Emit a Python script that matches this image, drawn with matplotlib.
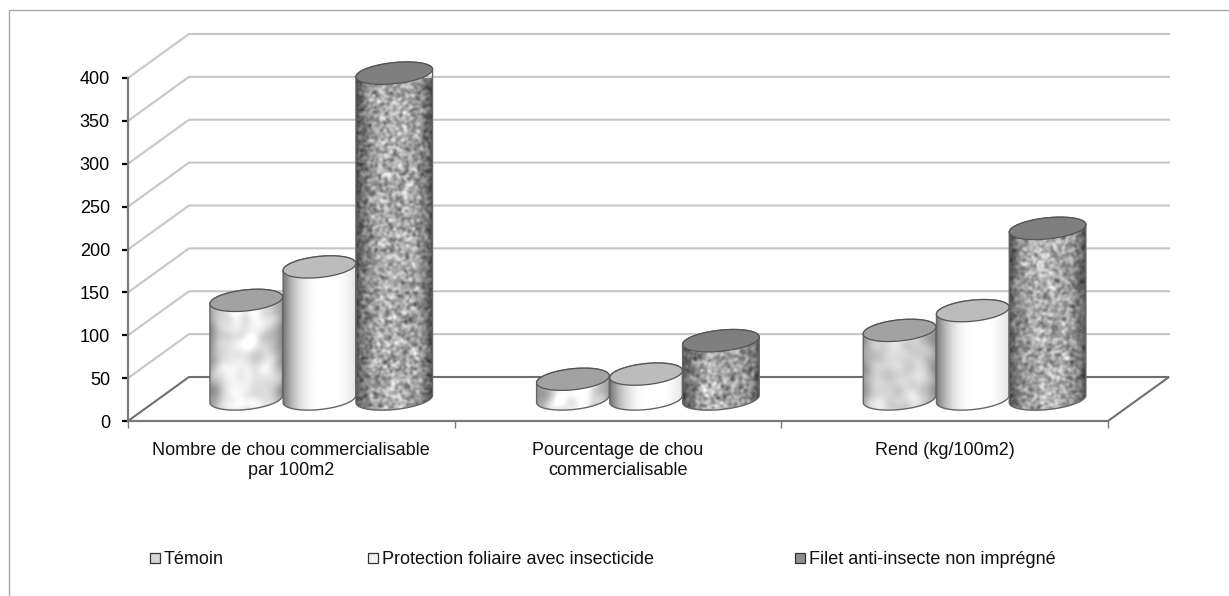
import numpy as np
import matplotlib
matplotlib.use("Agg")
import matplotlib.pyplot as plt
from matplotlib.lines import Line2D
from matplotlib.patches import Polygon, Rectangle

plt.rcParams['font.family'] = ['Liberation Sans', 'DejaVu Sans']

categories = ["Nombre de chou commercialisable\npar 100m2",
              "Pourcentage de chou\ncommercialisable",
              "Rend (kg/100m2)"]
series_names = ["Témoin", "Protection foliaire avec insecticide", "Filet anti-insecte non imprégné"]
temoin = [115, 23, 80]
protection = [154, 29, 103]
filet = [380, 68, 199]
y_ticks = [0, 50, 100, 150, 200, 250, 300, 350, 400]

W, H = 1229, 596
# plot box in pixels
LEFT, RIGHT, TOP, BOTTOM = 128, 1108, 78, 421
PX_X = (RIGHT - LEFT) / 3
PX_Y = (BOTTOM - TOP) / 400
DEPTH_X = 61 / PX_X   # oblique offset of the back wall
DEPTH_Y = 44 / PX_Y
BASE = 22 / PX_Y      # cylinders stand in the middle of the floor
TILT = np.radians(6)
MINOR = 10.5          # half height of the end ellipses, pixels


def noise(h, w, sigma, seed):
    # hash noise, smoothed in the fourier domain, scaled 0..1
    yy, xx = np.mgrid[0:h, 0:w]
    n = np.sin((xx + seed) * 12.9898 + (yy + seed) * 78.233) * 43758.5453
    n = n - np.floor(n)
    fy = np.fft.fftfreq(h)[:, None]
    fx = np.fft.fftfreq(w)[None, :]
    g = np.exp(-2 * (np.pi * sigma) ** 2 * (fx ** 2 + fy ** 2))
    n = np.real(np.fft.ifft2(np.fft.fft2(n) * g))
    return (n - n.min()) / (n.max() - n.min())


def side_texture(kind, h, w, seed):
    u = np.linspace(-1, 1, w)[None, :]
    if kind == 0:
        tex = 0.78 + 0.30 * noise(h, w, 5, seed)
        img = tex * (1 - 0.34 * np.abs(u) ** 2.4)
    elif kind == 1:
        # grey on the left, white right of centre, soft edge on the right
        img = 1 - 0.42 * np.clip(-u + 0.1, 0, 1.1) ** 2.5 - 0.25 * np.clip(u - 0.45, 0, 1) ** 1.5
        img = img * np.ones((h, 1))
    else:
        tex = 0.34 + 0.72 * noise(h, w, 1.3, seed)
        img = tex * (1 - 0.55 * np.abs(u) ** 3)
    return np.clip(img, 0, 1)


def ellipse(cx, cy, r, t):
    # tilted ellipse worked out in pixels, returned in data units
    ex = r * np.cos(t) * np.cos(TILT) - MINOR * np.sin(t) * np.sin(TILT)
    ey = r * np.cos(t) * np.sin(TILT) + MINOR * np.sin(t) * np.cos(TILT)
    return np.column_stack([cx + ex / PX_X, cy + ey / PX_Y])


def cylinder(ax, cx, value, r, kind, seed):
    t0 = np.arctan2(-MINOR * np.sin(TILT), r * np.cos(TILT))
    low = ellipse(cx, BASE, r, np.linspace(t0 + np.pi, t0 + 2 * np.pi, 80))
    up = ellipse(cx, BASE + value, r, np.linspace(t0, t0 + np.pi, 80))
    pts = np.vstack([low, up])
    x0, x1 = pts[:, 0].min(), pts[:, 0].max()
    y0, y1 = pts[:, 1].min(), pts[:, 1].max()
    h = max(int((y1 - y0) * PX_Y), 4)
    w = int((x1 - x0) * PX_X)
    im = ax.imshow(side_texture(kind, h, w, seed), cmap='gray', vmin=0, vmax=1, aspect='auto',
                   extent=(x0, x1, y0, y1), origin='lower', zorder=3, interpolation='bilinear')
    body = Polygon(pts, closed=True, transform=ax.transData, facecolor='none',
                   edgecolor='#666666', linewidth=1.0, zorder=3.1, clip_on=False)
    ax.add_patch(body)
    im.set_clip_path(body)
    lid = ellipse(cx, BASE + value, r, np.linspace(0, 2 * np.pi, 120))
    ax.add_patch(Polygon(lid, closed=True, facecolor=LID_COLORS[kind], edgecolor='#555555',
                         linewidth=0.9, zorder=3.2, clip_on=False))


LID_COLORS = ['#a2a2a2', '#bcbcbc', '#7f7f7f']
OFFSETS = [0.362, 0.586, 0.815]
RADII = [36.5, 36.5, 38.5]

fig = plt.figure(figsize=(W / 100, H / 100), dpi=100)
ax = fig.add_axes([LEFT / W, 1 - BOTTOM / H, (RIGHT - LEFT) / W, (BOTTOM - TOP) / H])
ax.set_xlim(0, 3)
ax.set_ylim(0, 400)

# back wall and side wall gridlines
for v in y_ticks[1:]:
    ax.plot([0, DEPTH_X, 3 + DEPTH_X], [v, v + DEPTH_Y, v + DEPTH_Y], color='#c6c6c6', lw=1.5,
            clip_on=False, zorder=1, solid_joinstyle='miter')
# floor
ax.plot([0, DEPTH_X, 3 + DEPTH_X, 3], [0, DEPTH_Y, DEPTH_Y, 0], color='#6f6f6f', lw=1.5,
        clip_on=False, zorder=1, solid_joinstyle='miter')

all_values = [temoin, protection, filet]
for c in range(len(categories)):
    for s, vals in enumerate(all_values):
        cylinder(ax, c + OFFSETS[s], vals[c], RADII[s], s, seed=c * 37 + s * 11 + 3)

ax.set_xlim(0, 3)
ax.set_ylim(0, 400)
for side in ['top', 'right']:
    ax.spines[side].set_visible(False)
for side in ['left', 'bottom']:
    ax.spines[side].set_color('#7a7a7a')
    ax.spines[side].set_linewidth(1.6)
ax.set_yticks(y_ticks)
ax.set_yticklabels([str(v) for v in y_ticks], fontsize=13, color='black')
ax.tick_params(axis='y', length=4, width=1.6, color='black', pad=9)
ax.set_xticks([0, 1, 2, 3])
ax.set_xticklabels([])
ax.tick_params(axis='x', length=5, width=1, color='#7a7a7a')
ax.set_xticks([0.5, 1.5, 2.5], minor=True)
ax.set_xticklabels(categories, minor=True, fontsize=13, linespacing=1.22, color='#111111')
ax.tick_params(axis='x', which='minor', length=0, pad=15)

# legend placed by hand, columns are not evenly spaced in the original
legend_x = [150, 368, 795]
legend_fill = ['#d6d8d8', '#f4f4f4', '#8f8f8f']
for px, name, col in zip(legend_x, series_names, legend_fill):
    fig.add_artist(Rectangle((px / W, 1 - 563 / H), 10 / W, 10 / H, transform=fig.transFigure,
                             facecolor=col, edgecolor='#333333', linewidth=0.9))
    fig.text((px + 14) / W, 1 - 559 / H, name, fontsize=13, va='center', ha='left', color='#111111')

# outer frame: top and left only reach inside the crop
fig.add_artist(Line2D([9 / W, 9 / W, 1], [0, 1 - 10 / H, 1 - 10 / H], color='#a8a8a8', lw=1.0))

fig.savefig("out.png", dpi=100)
